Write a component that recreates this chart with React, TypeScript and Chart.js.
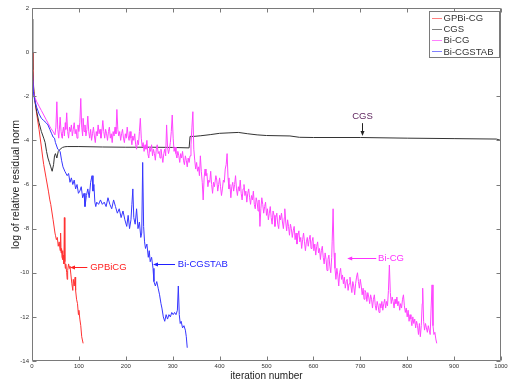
import React, { useEffect, useRef } from "react";
import { Chart, registerables } from "chart.js";

Chart.register(...registerables);

// ---- axis ticks ----
const xTicks = [0, 100, 200, 300, 400, 500, 600, 700, 800, 900, 1000];
const yTicks = [2, 0, -2, -4, -6, -8, -10, -12, -14];

// ---- series: [iteration, log of relative residual norm] ----
const gpbicg: [number, number][] = [
  [0, 0.0], [2, -1.3], [5, -2.0], [10, -2.8], [15, -3.5], [20, -4.3], [23, -4.8], [25, -5.1], [30, -5.7],
  [35, -6.3], [38, -6.7], [40, -6.9], [45, -7.6], [49, -8.2], [50, -8.3], [52, -8.5], [54, -8.4], [56, -8.8],
  [58, -8.6], [60, -9.0], [61, -8.2], [62, -9.1], [63, -8.9], [64, -9.3], [65, -9.0], [66, -9.4], [67, -9.2],
  [68, -9.6], [69, -7.5], [70, -9.5], [71, -9.8], [72, -9.6], [74, -10.0], [75, -10.3], [76, -9.9], [78, -9.6],
  [80, -9.8], [81, -9.7], [83, -10.1], [85, -10.5], [87, -10.8], [88, -10.3], [90, -10.6], [92, -10.2],
  [93, -10.8], [95, -11.2], [97, -11.4], [99, -11.9], [100, -11.7], [102, -12.1], [104, -12.4], [106, -12.9],
  [109, -13.2],
];

const cgs: [number, number][] = [
  [0, 1.5], [1, 0.2], [2, -0.8], [4, -1.8], [6, -2.2], [10, -2.7], [15, -3.2], [20, -3.6], [25, -3.9],
  [28, -4.1], [31, -4.5], [34, -4.8], [37, -5.0], [40, -5.2], [43, -5.4], [46, -5.1], [48, -4.7], [50, -4.6],
  [53, -4.8], [56, -4.5], [60, -4.4], [65, -4.32], [70, -4.29], [75, -4.28], [100, -4.28], [150, -4.3],
  [200, -4.31], [250, -4.31], [300, -4.32], [335, -4.34], [337, -3.82], [345, -3.82], [360, -3.79],
  [380, -3.74], [400, -3.68], [420, -3.66], [440, -3.64], [460, -3.7], [480, -3.75], [500, -3.78],
  [550, -3.8], [570, -3.86], [600, -3.87], [700, -3.87], [800, -3.9], [900, -3.92], [990, -3.94], [1000, -4.0],
];

const biCG: [number, number][] = [
  [0, 0.0], [1, -0.9], [3, -1.8], [5, -2.0], [10, -2.25], [15, -2.45], [20, -2.65], [25, -2.85], [30, -3.05],
  [35, -3.25], [40, -3.45], [45, -3.6], [49, -3.75],
  [51, -3.4], [53, -2.25], [55, -3.5], [57, -3.9], [59, -3.3], [60, -2.95], [62, -3.6], [64, -3.9], [65, -3.7],
  [67, -3.4], [69, -3.8], [71, -3.2], [72, -3.5], [74, -2.75], [76, -3.6], [78, -3.9], [80, -3.4], [82, -3.6],
  [84, -3.3], [86, -3.8], [88, -3.5], [90, -3.2], [92, -3.7], [94, -3.5], [96, -3.9], [98, -3.3], [100, -3.6],
  [102, -3.2], [104, -2.1], [106, -3.4], [108, -3.8], [109, -3.0], [111, -3.6], [113, -3.3], [115, -3.8],
  [117, -3.5], [119, -2.9], [121, -3.6], [123, -3.9], [125, -3.5], [127, -4.0], [129, -3.7], [131, -3.4],
  [133, -3.8], [135, -4.1], [137, -3.6], [139, -3.8], [141, -3.3], [143, -3.7], [145, -3.5], [147, -3.9],
  [149, -3.6], [151, -3.1], [153, -3.6], [155, -3.9], [157, -3.5], [159, -3.7], [161, -4.0], [163, -3.6],
  [165, -3.4], [167, -3.9], [169, -3.7], [171, -4.1], [173, -3.6], [175, -3.8], [177, -3.4], [179, -3.7],
  [181, -2.6], [183, -3.5], [185, -3.8], [187, -3.6], [189, -4.0], [191, -3.7], [193, -3.5], [195, -3.9],
  [197, -4.1], [199, -3.7], [201, -3.9], [203, -3.4], [205, -3.8], [207, -4.0], [209, -3.6], [211, -3.9],
  [213, -4.2], [215, -3.8], [217, -4.0], [219, -3.7], [221, -4.2], [223, -4.4], [225, -4.0], [227, -4.2],
  [229, -3.6], [231, -3.0], [233, -3.9], [235, -4.3], [237, -4.1], [239, -4.5], [241, -4.2], [243, -4.4],
  [245, -4.0], [247, -4.6], [249, -4.8], [251, -4.3], [253, -4.5], [255, -4.2], [257, -4.7], [259, -4.4],
  [261, -4.6], [263, -4.9], [265, -4.4], [267, -4.2], [269, -4.6], [271, -4.5], [273, -4.8], [275, -4.4],
  [277, -4.7], [279, -5.0], [281, -4.6], [283, -4.4], [285, -4.7], [287, -3.3], [289, -4.3], [291, -4.6],
  [293, -4.4], [295, -4.1], [297, -3.6], [299, -2.85], [301, -3.9], [303, -4.5], [305, -4.3], [307, -4.6],
  [309, -4.8], [311, -4.5], [313, -4.7], [315, -5.0], [317, -4.6], [319, -4.8], [321, -4.5], [323, -4.9],
  [325, -5.1], [327, -4.7], [329, -4.9], [331, -5.2], [333, -4.8], [335, -5.0], [337, -4.7], [339, -4.2],
  [341, -3.4], [343, -2.7], [345, -4.4], [347, -4.9], [349, -5.3], [351, -5.0], [353, -5.4], [355, -5.2],
  [357, -5.6], [359, -4.7], [361, -5.4], [363, -5.9], [365, -6.7], [367, -5.7], [369, -5.3], [371, -5.6],
  [373, -5.5], [375, -6.1], [377, -5.8], [379, -5.9], [381, -5.4], [383, -6.0], [385, -6.4], [387, -5.9],
  [389, -6.1], [392, -5.6], [394, -5.8], [396, -6.3], [398, -6.0], [400, -5.7], [402, -6.1], [404, -6.5],
  [406, -6.2], [408, -5.8], [410, -5.9], [412, -5.3], [414, -5.1], [416, -4.6], [418, -5.7], [420, -6.2],
  [422, -6.0], [424, -6.6], [426, -6.1], [428, -5.9], [430, -6.3], [432, -6.0], [434, -5.6], [436, -6.2],
  [438, -6.5], [440, -6.1], [442, -6.3], [444, -5.8], [446, -6.4], [448, -6.7], [450, -6.2], [452, -6.0],
  [454, -6.5], [456, -6.3], [458, -6.8], [460, -6.4], [462, -6.2], [464, -6.6], [466, -6.9], [468, -6.5],
  [470, -6.7], [472, -6.3], [474, -6.9], [476, -7.1], [478, -6.6], [480, -6.8], [482, -7.2], [484, -6.7],
  [486, -7.9], [488, -7.1], [490, -6.6], [492, -6.9], [494, -7.3], [496, -7.0], [498, -6.8], [500, -7.4],
  [502, -7.1], [504, -7.6], [506, -7.3], [508, -7.0], [510, -7.5], [512, -7.8], [514, -7.2], [516, -7.4],
  [518, -7.9], [520, -7.5], [522, -7.3], [524, -7.8], [526, -8.0], [528, -7.4], [530, -7.6], [532, -7.3],
  [534, -7.7], [536, -8.0], [538, -7.5], [539, -7.1], [541, -7.7], [543, -8.1], [545, -7.6], [547, -7.9],
  [549, -8.3], [551, -7.8], [553, -8.0], [555, -8.4], [557, -8.1], [559, -7.9], [561, -8.5], [563, -8.2],
  [565, -8.7], [567, -8.3], [569, -8.1], [571, -8.6], [573, -8.4], [575, -8.9], [577, -8.5], [579, -8.2],
  [581, -8.6], [583, -9.0], [585, -8.6], [587, -8.4], [589, -8.8], [591, -8.5], [593, -8.3], [595, -8.9],
  [597, -8.6], [599, -8.4], [601, -9.0], [603, -8.7], [605, -9.2], [607, -8.8], [609, -8.6], [611, -9.1],
  [613, -8.9], [615, -9.4], [617, -9.0], [619, -8.8], [621, -9.3], [623, -9.6], [625, -9.1], [627, -9.4],
  [629, -9.9], [631, -9.4], [633, -9.2], [635, -9.7], [637, -10.0], [639, -9.3], [640, -8.6], [642, -7.1],
  [644, -9.1], [646, -9.8], [648, -10.3], [650, -9.8], [652, -10.1], [654, -10.6], [656, -10.0], [658, -9.8],
  [660, -10.3], [662, -10.1], [664, -10.5], [666, -10.2], [668, -10.7], [670, -10.4], [672, -10.3],
  [674, -10.8], [676, -10.5], [678, -10.2], [680, -10.6], [682, -10.9], [684, -10.4], [686, -10.6],
  [688, -11.0], [690, -10.5], [692, -10.2], [694, -10.0], [696, -10.4], [698, -10.7], [700, -10.3],
  [702, -10.6], [704, -11.0], [706, -10.7], [708, -11.2], [710, -10.8], [712, -10.9], [714, -11.3],
  [716, -10.9], [718, -11.1], [720, -11.4], [722, -11.0], [724, -11.2], [726, -11.6], [728, -11.2],
  [730, -11.0], [732, -11.5], [734, -11.7], [736, -11.3], [738, -11.5], [740, -11.8], [742, -11.4],
  [744, -11.6], [746, -11.3], [748, -11.7], [750, -11.4], [752, -11.2], [754, -11.6], [756, -11.3],
  [758, -11.5], [760, -10.8], [762, -9.65], [764, -10.9], [766, -11.4], [768, -11.1], [770, -11.3],
  [772, -11.6], [774, -11.2], [776, -11.4], [778, -11.1], [780, -11.5], [782, -11.3], [784, -11.7],
  [786, -11.4], [788, -11.6], [790, -11.2], [792, -11.0], [794, -11.5], [796, -11.8], [798, -11.6],
  [800, -12.0], [802, -11.7], [804, -12.2], [806, -11.9], [808, -12.1], [810, -12.4], [812, -12.0],
  [814, -12.3], [816, -12.1], [818, -12.5], [820, -12.2], [822, -12.4], [824, -12.8], [826, -12.3],
  [828, -12.9], [830, -12.4], [832, -11.4], [833, -10.7], [835, -12.2], [837, -12.6], [839, -12.3],
  [841, -12.5], [843, -12.7], [845, -12.4], [847, -12.6], [849, -12.8], [851, -11.6], [853, -10.55],
  [855, -12.4], [857, -12.8], [859, -12.7], [861, -13.0], [863, -13.2],
];

const biCGSTAB: [number, number][] = [
  [0, -0.3], [1, -1.2], [3, -1.8], [5, -2.1], [10, -2.5], [15, -2.8], [20, -3.0], [25, -3.1], [30, -3.2],
  [34, -3.3], [38, -3.5], [42, -3.7], [45, -3.85], [48, -3.9], [50, -4.1], [55, -4.4], [60, -4.5], [63, -4.9],
  [66, -5.2], [70, -5.4], [75, -5.6], [78, -5.5], [81, -5.9], [84, -5.7], [87, -6.0], [90, -5.8], [93, -6.2],
  [96, -6.0], [99, -6.4], [102, -6.3], [105, -6.1], [108, -6.6], [111, -6.4], [113, -7.0], [116, -6.5],
  [119, -6.2], [122, -6.6], [125, -5.9], [128, -5.6], [130, -6.3], [132, -6.0], [134, -6.8], [136, -7.0],
  [138, -6.8], [142, -6.9], [146, -6.7], [150, -6.9], [154, -6.8], [158, -7.0], [162, -6.6], [166, -6.9],
  [170, -7.1], [174, -6.7], [178, -7.0], [182, -7.3], [186, -7.1], [190, -7.5], [194, -7.2], [198, -7.6],
  [202, -7.9], [205, -7.4], [208, -8.0], [211, -7.6], [213, -6.9], [215, -6.2], [217, -7.5], [220, -7.8],
  [223, -7.1], [226, -8.0], [229, -7.7], [232, -8.4], [234, -8.2], [236, -5.0], [238, -7.9], [240, -8.6],
  [242, -8.9], [245, -8.7], [248, -9.3], [250, -9.0], [252, -9.5], [255, -9.3], [258, -9.8], [260, -10.4],
  [263, -10.6], [266, -10.4], [269, -10.7], [272, -11.0], [275, -11.4], [277, -11.6], [280, -12.0],
  [283, -12.2], [286, -11.9], [289, -12.1], [292, -11.9], [295, -12.0], [298, -11.8], [301, -11.9],
  [304, -11.8], [307, -11.9], [310, -11.7], [312, -10.6], [314, -11.9], [316, -12.3], [318, -12.2],
  [321, -12.5], [324, -12.4], [327, -12.6], [329, -12.9], [331, -13.4],
];

const seriesNames = ["GPBi-CG", "CGS", "Bi-CG", "Bi-CGSTAB"];
const seriesColors = ["#ff3333", "#333333", "#ff44ff", "#3636ff"];
const legendColors = ["#ff8080", "#808080", "#ff80ff", "#8080ff"];

// annotation text labels and arrow targets (data coordinates)
const annotations = [
  { text: "GPBiCG", color: "#ff2020", textX: 124, textY: -9.74, arrowFromX: 118, arrowToX: 81, arrowY: -9.74 },
  { text: "Bi-CGSTAB", color: "#2020ff", textX: 311, textY: -9.6, arrowFromX: 305, arrowToX: 258, arrowY: -9.6 },
  { text: "Bi-CG", color: "#ff30ff", textX: 738, textY: -9.33, arrowFromX: 734, arrowToX: 672, arrowY: -9.33 },
];
const cgsNote = { text: "CGS", color: "#5a1f5a", x: 704, textY: -2.9, fromY: -3.22, toY: -3.8 };

const FONT = "'Liberation Sans', Arial, sans-serif";

function toXY(arr: [number, number][]) {
  return arr.map(([x, y]) => ({ x, y }));
}

const overlayPlugin = {
  id: "overlay",
  afterDatasetsDraw(chart: any) {
    const { ctx, chartArea: a, scales } = chart;
    const xs = scales.x;
    const ys = scales.y;
    const L = Math.round(a.left) + 0.5;
    const R = Math.round(a.right) - 0.5;
    const T = Math.round(a.top) + 0.5;
    const B = Math.round(a.bottom) - 0.5;
    ctx.save();
    // frame
    ctx.strokeStyle = "#7a7a7a";
    ctx.lineWidth = 1;
    ctx.beginPath();
    ctx.rect(L, T, R - L, B - T);
    ctx.stroke();
    // ticks
    const tl = 4;
    ctx.beginPath();
    xTicks.forEach((v) => {
      const px = Math.round(xs.getPixelForValue(v)) + 0.5;
      ctx.moveTo(px, B);
      ctx.lineTo(px, B - tl);
      ctx.moveTo(px, T);
      ctx.lineTo(px, T + tl);
    });
    yTicks.forEach((v) => {
      const py = Math.round(ys.getPixelForValue(v)) + 0.5;
      ctx.moveTo(L, py);
      ctx.lineTo(L + tl, py);
      ctx.moveTo(R, py);
      ctx.lineTo(R - tl, py);
    });
    ctx.stroke();
    // tick labels
    ctx.fillStyle = "#333333";
    ctx.font = `6px ${FONT}`;
    ctx.textAlign = "center";
    ctx.textBaseline = "middle";
    xTicks.forEach((v) => {
      ctx.fillText(String(v), xs.getPixelForValue(v), a.bottom + 5);
    });
    ctx.textAlign = "right";
    yTicks.forEach((v) => {
      ctx.fillText(String(v), a.left - 3, ys.getPixelForValue(v));
    });
    // axis titles
    ctx.fillStyle = "#222222";
    ctx.font = `10px ${FONT}`;
    ctx.textAlign = "center";
    ctx.textBaseline = "middle";
    ctx.fillText("iteration number", (a.left + a.right) / 2, 376);
    ctx.save();
    ctx.translate(16, (a.top + a.bottom) / 2);
    ctx.rotate(-Math.PI / 2);
    ctx.font = `10.5px ${FONT}`;
    ctx.fillText("log of relative residual norm", 0, 0);
    ctx.restore();

    // annotations with left-pointing arrows
    ctx.font = `9.5px ${FONT}`;
    ctx.textBaseline = "middle";
    annotations.forEach((an) => {
      const ty = ys.getPixelForValue(an.textY);
      ctx.fillStyle = an.color;
      ctx.strokeStyle = an.color;
      ctx.textAlign = "left";
      ctx.fillText(an.text, xs.getPixelForValue(an.textX), ty);
      const ay = Math.round(ys.getPixelForValue(an.arrowY)) + 0.5;
      const x1 = xs.getPixelForValue(an.arrowFromX);
      const x2 = xs.getPixelForValue(an.arrowToX);
      ctx.beginPath();
      ctx.moveTo(x1, ay);
      ctx.lineTo(x2 + 3, ay);
      ctx.stroke();
      ctx.beginPath();
      ctx.moveTo(x2, ay);
      ctx.lineTo(x2 + 5, ay - 2);
      ctx.lineTo(x2 + 5, ay + 2);
      ctx.closePath();
      ctx.fill();
    });
    // CGS note with downward arrow
    {
      const cx = Math.round(xs.getPixelForValue(cgsNote.x)) + 0.5;
      ctx.fillStyle = cgsNote.color;
      ctx.textAlign = "center";
      ctx.fillText(cgsNote.text, cx, ys.getPixelForValue(cgsNote.textY));
      const y1 = ys.getPixelForValue(cgsNote.fromY);
      const y2 = ys.getPixelForValue(cgsNote.toY);
      ctx.strokeStyle = "#222222";
      ctx.fillStyle = "#222222";
      ctx.beginPath();
      ctx.moveTo(cx, y1);
      ctx.lineTo(cx, y2 - 3);
      ctx.stroke();
      ctx.beginPath();
      ctx.moveTo(cx, y2);
      ctx.lineTo(cx - 2, y2 - 5);
      ctx.lineTo(cx + 2, y2 - 5);
      ctx.closePath();
      ctx.fill();
    }

    // legend box
    const bx = 429.5, by = 11.5, bw = 70, bh = 46;
    ctx.fillStyle = "#ffffff";
    ctx.fillRect(bx, by, bw, bh);
    ctx.strokeStyle = "#7a7a7a";
    ctx.strokeRect(bx, by, bw, bh);
    ctx.font = `9.5px ${FONT}`;
    ctx.textAlign = "left";
    seriesNames.forEach((name, i) => {
      const ry = 17.5 + i * 11.3;
      ctx.strokeStyle = legendColors[i];
      ctx.beginPath();
      ctx.moveTo(432, Math.round(ry) + 0.5);
      ctx.lineTo(442, Math.round(ry) + 0.5);
      ctx.stroke();
      ctx.fillStyle = "#333333";
      ctx.fillText(name, 443.5, ry + 0.5);
    });
    ctx.restore();
  },
};

export default function App() {
  const ref = useRef<HTMLCanvasElement | null>(null);
  useEffect(() => {
    if (!ref.current) return;
    const datasets = [
      { label: seriesNames[3], data: toXY(biCGSTAB), borderColor: seriesColors[3] },
      { label: seriesNames[2], data: toXY(biCG), borderColor: seriesColors[2] },
      { label: seriesNames[1], data: toXY(cgs), borderColor: seriesColors[1] },
      { label: seriesNames[0], data: toXY(gpbicg), borderColor: seriesColors[0] },
    ].map((d) => ({
      ...d,
      borderWidth: 1,
      pointRadius: 0,
      tension: 0,
      fill: false,
    }));
    const chart = new Chart(ref.current, {
      type: "line",
      data: { datasets },
      options: {
        animation: false,
        responsive: false,
        maintainAspectRatio: false,
        parsing: false as any,
        layout: { padding: { left: 32, right: 8, top: 8, bottom: 19 } },
        plugins: { legend: { display: false }, tooltip: { enabled: false } },
        scales: {
          x: { type: "linear", min: 0, max: 1000, display: false },
          y: { type: "linear", min: -14, max: 2, display: false },
        },
      },
      plugins: [overlayPlugin],
    });
    return () => chart.destroy();
  }, []);
  return (
    <div style={{ position: "absolute", left: 0, top: 0, width: 509, height: 380, background: "#fff" }}>
      <canvas ref={ref} width={509} height={380} style={{ width: 509, height: 380, display: "block" }} />
    </div>
  );
}
